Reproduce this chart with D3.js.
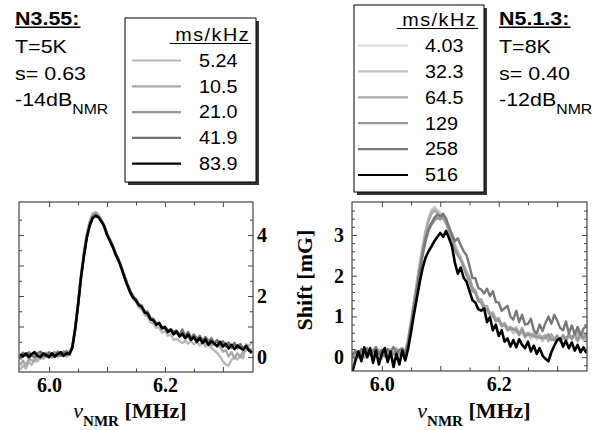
<!DOCTYPE html>
<html><head><meta charset="utf-8">
<script src="https://cdn.jsdelivr.net/npm/d3@7"></script>
<style>body{margin:0;background:#fff}svg{display:block}</style>
</head><body>
<svg id="c" width="605" height="430"></svg>
<script>
// ---------- DATA ----------
const freq = [5.950,5.955,5.960,5.965,5.970,5.975,5.980,5.985,5.990,5.995,
6.000,6.005,6.010,6.015,6.020,6.025,6.030,6.035,6.040,6.045,
6.050,6.055,6.060,6.065,6.070,6.075,6.080,6.085,6.090,6.095,
6.100,6.105,6.110,6.115,6.120,6.125,6.130,6.135,6.140,6.145,
6.150,6.155,6.160,6.165,6.170,6.175,6.180,6.185,6.190,6.195,
6.200,6.205,6.210,6.215,6.220,6.225,6.230,6.235,6.240,6.245,
6.250,6.255,6.260,6.265,6.270,6.275,6.280,6.285,6.290,6.295,
6.300,6.305,6.310,6.315,6.320,6.325,6.330,6.335,6.340,6.345,6.350];

// Left panel (N3.55), shift in mG
const n355_524 = [-0.42,-0.28,-0.38,-0.16,-0.26,-0.04,-0.14,0.04,-0.06,0.08,
-0.02,0.10,0.00,0.10,0.02,0.14,0.02,0.12,0.35,1.00,
1.80,2.70,3.45,4.05,4.45,4.70,4.75,4.68,4.50,4.32,
4.05,3.85,3.62,3.40,3.18,2.92,2.65,2.35,2.10,1.92,
1.80,1.62,1.56,1.38,1.32,1.14,1.10,0.96,0.98,0.80,
0.86,0.70,0.74,0.56,0.60,0.52,0.46,0.54,0.44,0.52,
0.42,0.50,0.38,0.48,0.34,0.44,0.30,0.22,0.14,0.02,
-0.14,-0.24,-0.28,-0.08,-0.02,-0.08,0.02,-0.04,0.42,0.36,0.50];
const n355_105 = [-0.26,-0.12,-0.28,-0.06,-0.10,-0.14,0.04,-0.06,0.08,0.00,
0.10,-0.02,0.10,0.02,0.14,0.04,0.14,0.06,0.32,0.95,
1.75,2.65,3.40,4.00,4.40,4.65,4.72,4.64,4.48,4.30,
4.02,3.82,3.62,3.38,3.18,2.95,2.66,2.40,2.15,1.98,
1.88,1.68,1.66,1.44,1.44,1.26,1.22,1.06,1.08,0.92,
0.96,0.82,0.86,0.76,0.80,0.68,0.72,0.62,0.68,0.54,
0.66,0.50,0.56,0.60,0.42,0.56,0.38,0.44,0.34,0.36,
0.18,0.22,0.02,0.16,-0.04,0.12,0.00,0.18,0.22,0.26,0.24];
const n355_210 = [-0.08,0.06,0.10,-0.04,0.08,0.12,0.00,0.10,0.00,0.14,
0.04,0.12,0.16,0.02,0.12,0.18,0.06,0.16,0.35,0.95,
1.72,2.62,3.35,3.95,4.35,4.60,4.68,4.62,4.50,4.32,
4.05,3.85,3.66,3.40,3.20,2.95,2.68,2.42,2.18,2.00,
1.90,1.72,1.70,1.48,1.50,1.28,1.26,1.10,1.10,0.98,
1.00,0.86,0.92,0.80,0.86,0.72,0.86,0.66,0.78,0.60,
0.72,0.56,0.66,0.50,0.64,0.46,0.58,0.42,0.54,0.38,
0.50,0.34,0.46,0.30,0.44,0.28,0.42,0.26,0.38,0.22,0.20];
const n355_419 = [0.00,0.14,0.04,0.16,0.04,0.00,0.12,0.18,0.06,0.02,
0.16,0.06,0.00,0.18,0.04,0.12,0.20,0.08,0.32,0.92,
1.70,2.58,3.30,3.92,4.32,4.58,4.66,4.60,4.46,4.30,
4.02,3.84,3.62,3.38,3.18,2.92,2.64,2.38,2.15,1.98,
1.88,1.70,1.66,1.48,1.46,1.26,1.24,1.10,1.08,0.96,
0.98,0.86,0.88,0.84,0.86,0.70,0.90,0.68,0.82,0.62,
0.74,0.58,0.70,0.52,0.66,0.48,0.62,0.44,0.56,0.40,
0.52,0.36,0.48,0.32,0.46,0.30,0.42,0.26,0.38,0.22,0.14];
const n355_839 = [0.10,0.02,0.12,0.00,0.10,0.16,0.04,0.00,0.12,0.06,
0.00,0.12,0.02,0.10,0.16,0.04,0.12,0.10,0.30,0.90,
1.70,2.60,3.30,3.90,4.30,4.55,4.63,4.58,4.45,4.28,
4.00,3.80,3.60,3.35,3.15,2.90,2.62,2.35,2.12,1.95,
1.85,1.70,1.64,1.46,1.42,1.24,1.20,1.06,1.12,0.94,
0.98,0.82,0.90,0.74,0.84,0.68,0.76,0.62,0.74,0.56,
0.66,0.50,0.62,0.46,0.58,0.40,0.52,0.44,0.36,0.50,
0.34,0.44,0.28,0.40,0.26,0.38,0.30,0.24,0.36,0.22,0.14];

// Right panel (N5.1.3)
const n513_403 = [-0.10,0.05,0.15,0.08,0.00,0.12,0.20,0.05,0.10,0.00,
0.15,0.08,0.18,0.02,0.12,0.05,0.15,0.10,0.05,0.42,
0.88,1.35,1.82,2.28,2.72,3.10,3.40,3.62,3.70,3.62,
3.55,3.45,3.30,3.15,2.95,2.75,2.58,2.40,2.22,2.05,
1.92,1.66,1.60,1.38,1.36,1.18,1.16,1.02,1.02,0.88,
0.90,0.76,0.79,0.66,0.69,0.58,0.62,0.60,0.59,0.48,
0.60,0.46,0.50,0.48,0.52,0.38,0.50,0.46,0.48,0.44,
0.56,0.41,0.54,0.42,0.58,0.44,0.56,0.54,0.54,0.51,0.52];
const n513_323 = [0.05,0.18,0.10,0.00,0.14,0.20,0.08,0.15,0.05,0.18,
0.10,0.04,0.15,0.20,0.06,0.12,0.18,0.08,0.15,0.45,
0.90,1.38,1.85,2.30,2.75,3.12,3.42,3.60,3.65,3.58,
3.50,3.42,3.35,3.18,2.98,2.78,2.60,2.45,2.28,2.10,
1.96,1.68,1.62,1.42,1.38,1.22,1.22,1.04,1.04,0.90,
0.92,0.78,0.82,0.68,0.72,0.60,0.74,0.56,0.62,0.58,
0.58,0.46,0.60,0.44,0.56,0.42,0.54,0.38,0.52,0.40,
0.44,0.42,0.46,0.44,0.48,0.46,0.50,0.38,0.52,0.41,0.44];
const n513_645 = [0.00,0.12,0.05,0.18,-0.02,0.10,0.15,0.02,0.20,0.08,
0.12,0.20,0.00,0.15,0.08,0.22,0.05,0.15,0.12,0.40,
0.85,1.32,1.80,2.25,2.68,3.05,3.35,3.52,3.60,3.55,
3.48,3.40,3.28,3.12,2.95,2.70,2.55,2.42,2.25,2.08,
1.94,1.72,1.64,1.44,1.42,1.26,1.26,1.08,1.10,0.94,
0.96,0.80,0.84,0.72,0.74,0.70,0.70,0.58,0.72,0.54,
0.60,0.56,0.56,0.52,0.52,0.50,0.54,0.42,0.56,0.44,
0.48,0.46,0.50,0.48,0.52,0.51,0.54,0.62,0.48,0.60,0.46];
const n513_129 = [0.10,-0.05,0.12,0.02,0.15,0.00,0.10,0.18,0.04,0.12,
-0.02,0.10,0.15,0.05,0.12,0.00,0.10,0.05,0.08,0.30,
0.75,1.20,1.65,2.10,2.50,2.85,3.10,3.25,3.35,3.42,
3.38,3.45,3.30,3.10,2.90,2.62,2.50,2.38,2.20,2.00,
1.86,1.62,1.58,1.38,1.34,1.20,1.16,1.04,1.02,0.88,
0.92,0.76,0.80,0.66,0.70,0.68,0.66,0.54,0.68,0.50,
0.56,0.54,0.52,0.50,0.48,0.46,0.48,0.56,0.42,0.44,
0.52,0.38,0.54,0.42,0.56,0.44,0.58,0.42,0.56,0.46,0.58];
const n513_258 = [0.05,0.15,0.00,0.20,0.10,0.22,0.05,0.15,0.25,0.08,
0.18,0.02,0.20,0.12,0.25,0.10,0.18,0.22,0.10,0.35,
0.80,1.25,1.70,2.15,2.55,2.90,3.15,3.30,3.42,3.50,
3.45,3.52,3.40,3.20,3.02,2.85,2.92,2.75,2.60,2.50,
2.24,1.94,1.94,1.70,1.66,1.56,1.68,1.50,1.62,1.36,
1.34,1.14,1.20,1.26,1.00,0.92,1.14,0.86,1.04,0.80,
0.82,0.94,0.66,0.58,0.80,0.64,0.84,1.00,0.82,1.04,
0.90,0.72,0.66,0.88,0.58,0.78,0.56,0.74,0.54,0.70,0.76];
const n513_516 = [-0.34,-0.08,0.14,-0.10,0.24,0.00,0.22,-0.14,0.16,-0.18,
0.08,0.22,-0.12,0.14,-0.24,0.08,-0.18,0.16,-0.08,0.20,
0.62,1.05,1.45,1.85,2.20,2.45,2.60,2.72,2.85,2.95,
3.05,2.96,3.10,2.92,2.72,2.32,2.05,2.20,1.95,1.85,
1.62,1.40,1.34,1.18,1.14,1.20,0.86,0.98,0.66,0.80,
0.52,0.66,0.38,0.46,0.26,0.42,0.24,0.44,0.30,0.22,
0.38,0.14,0.28,0.08,0.22,0.04,-0.04,-0.10,0.12,0.28,
0.42,0.46,0.26,0.40,0.22,0.36,0.16,0.30,0.12,0.24,0.10];

const leftLabels  = ["5.24","10.5","21.0","41.9","83.9"];
const leftColors  = ["#b8b8b8","#a8a8a8","#959595","#727272","#000000"];
const leftSeries  = [n355_524, n355_105, n355_210, n355_419, n355_839];
const rightLabels = ["4.03","32.3","64.5","129","258","516"];
const rightColors = ["#d6d6d6","#c2c2c2","#a9a9a9","#979797","#787878","#000000"];
const rightSeries = [n513_403, n513_323, n513_645, n513_129, n513_258, n513_516];

const infoLeft  = ["N3.55:", "T=5K", "s= 0.63", "-14dB", "NMR"];
const infoRight = ["N5.1.3:", "T=8K", "s= 0.40", "-12dB", "NMR"];
const legendTitle = "ms/kHz";

const xTicksMajor = [6.0, 6.1, 6.2, 6.3];
const xTicksMinor = [6.05, 6.15, 6.25];
const xTickLabels = [6.0, 6.2];
const leftYMajor = [0, 1, 2, 3, 4];
const leftYMinor = [0.5, 1.5, 2.5, 3.5, 4.5];
const leftYLabels = [0, 2, 4];
const rightYMajor = [0, 1, 2, 3];
const rightYMinor = [-0.2, 0.2, 0.4, 0.6, 0.8, 1.2, 1.4, 1.6, 1.8, 2.2, 2.4, 2.6, 2.8, 3.2, 3.4, 3.6];
const rightYLabels = [0, 1, 2, 3];

// ---------- DRAW ----------
const svg = d3.select('#c');
const SX = 1.13;
const SANS = "'Liberation Sans', Arial, Helvetica, sans-serif";
const SERIF = "'Liberation Serif', 'Times New Roman', Times, serif";

function sansText(parent, x, y, str, o = {}) {
  const g = parent.append('g').attr('transform', `translate(${x},${y}) scale(${SX},1)`);
  const t = g.append('text')
    .attr('font-family', SANS).attr('font-size', o.size || 19)
    .attr('font-weight', o.bold ? 'bold' : 'normal')
    .attr('text-anchor', o.anchor || 'start')
    .attr('letter-spacing', o.ls || 0)
    .attr('fill', '#000').text(str);
  if (o.sub) {
    t.append('tspan').attr('font-size', o.subSize || 14).attr('dy', 8).text(o.sub);
  }
  if (o.underline) {
    const b = t.node().getBBox();
    g.append('line').attr('x1', b.x - (o.ulPad || 0)).attr('x2', b.x + b.width + 1)
      .attr('y1', o.ulY || 2.5).attr('y2', o.ulY || 2.5)
      .attr('stroke', '#000').attr('stroke-width', o.ulW || 1.4);
  }
  return g;
}

function info(x, lines) {
  sansText(svg, x, 25, lines[0], {bold: true, size: 19, underline: true, ulY: 2.2, ulW: 1.6});
  sansText(svg, x, 53, lines[1], {size: 19});
  sansText(svg, x, 80, lines[2], {size: 19});
  sansText(svg, x, 106, lines[3], {size: 19, sub: lines[4], subSize: 14});
}
info(15, infoLeft);
info(499, infoRight);

function legend(bx, by, bw, bh, titleX, titleY, labels, colors, lineX0, lineX1, textX, rowY0, rowStep) {
  const g = svg.append('g');
  g.append('rect').attr('x', bx + 3).attr('y', by + 3).attr('width', bw).attr('height', bh).attr('fill', '#333');
  g.append('rect').attr('x', bx).attr('y', by).attr('width', bw).attr('height', bh)
    .attr('fill', '#fff').attr('stroke', '#000').attr('stroke-width', 1);
  sansText(g, titleX, titleY, legendTitle, {size: 17.5, anchor: 'end', ls: 1.3, underline: true, ulPad: 5, ulY: 2.5, ulW: 1.2});
  labels.forEach((lab, i) => {
    const yy = rowY0 + i * rowStep;
    g.append('line').attr('x1', lineX0).attr('x2', lineX1).attr('y1', yy).attr('y2', yy)
      .attr('stroke', colors[i]).attr('stroke-width', 2.2);
    sansText(g, textX, yy + 6.3, lab, {size: 17.5});
  });
}
legend(125, 18, 131, 164, 250, 41, leftLabels, leftColors, 132, 181, 199, 60.5, 25.8);
legend(354, 5, 130, 187, 477, 26, rightLabels, rightColors, 358, 408, 425, 45.5, 25.9);

function panel(cfg) {
  const x = d3.scaleLinear().domain(cfg.xd).range([cfg.x0, cfg.x1]);
  const y = d3.scaleLinear().domain(cfg.yd).range([cfg.y1, cfg.y0]);
  const g = svg.append('g');
  const cid = 'clip' + cfg.id;
  g.append('clipPath').attr('id', cid).append('rect')
    .attr('x', cfg.x0).attr('y', cfg.y0).attr('width', cfg.x1 - cfg.x0).attr('height', cfg.y1 - cfg.y0);
  const line = d3.line().x((d, i) => x(freq[i])).y(d => y(d));
  const lg = g.append('g').attr('clip-path', `url(#${cid})`);
  cfg.series.forEach((s, i) => {
    lg.append('path').attr('d', line(s)).attr('fill', 'none')
      .attr('stroke', cfg.colors[i]).attr('stroke-width', cfg.colors[i] === '#000000' ? 2.6 : 2.4)
      .attr('stroke-linejoin', 'round');
  });
  g.append('rect').attr('x', cfg.x0).attr('y', cfg.y0).attr('width', cfg.x1 - cfg.x0).attr('height', cfg.y1 - cfg.y0)
    .attr('fill', 'none').attr('stroke', '#444').attr('stroke-width', 1.2);

  const style = sel => {
    sel.select('.domain').remove();
    sel.selectAll('line').attr('stroke', '#444').attr('stroke-width', 1);
    sel.selectAll('text').attr('font-family', SERIF).attr('font-weight', 'bold').attr('font-size', 20).attr('fill', '#000');
  };
  const xl = d => xTickLabels.some(v => Math.abs(v - d) < 1e-9) ? d3.format('.1f')(d) : '';
  g.append('g').attr('transform', `translate(0,${cfg.y1})`)
    .call(d3.axisBottom(x).tickValues(xTicksMajor).tickSize(-5).tickSizeOuter(0).tickPadding(6).tickFormat(xl)).call(style);
  g.append('g').attr('transform', `translate(0,${cfg.y1})`)
    .call(d3.axisBottom(x).tickValues(xTicksMinor).tickSize(-3.5).tickSizeOuter(0).tickFormat('')).call(style);
  g.append('g').attr('transform', `translate(0,${cfg.y0})`)
    .call(d3.axisTop(x).tickValues(xTicksMajor).tickSize(-5).tickSizeOuter(0).tickFormat('')).call(style);
  g.append('g').attr('transform', `translate(0,${cfg.y0})`)
    .call(d3.axisTop(x).tickValues(xTicksMinor).tickSize(-3.5).tickSizeOuter(0).tickFormat('')).call(style);
  const yl = d => cfg.yLabels.includes(d) ? String(d) : '';
  const labelLeft = cfg.labelSide === 'left';
  g.append('g').attr('transform', `translate(${cfg.x0},0)`)
    .call(d3.axisLeft(y).tickValues(cfg.yMajor).tickSize(-5).tickSizeOuter(0).tickPadding(8)
      .tickFormat(labelLeft ? yl : '')).call(style);
  g.append('g').attr('transform', `translate(${cfg.x0},0)`)
    .call(d3.axisLeft(y).tickValues(cfg.yMinor).tickSize(-3).tickSizeOuter(0).tickFormat('')).call(style);
  g.append('g').attr('transform', `translate(${cfg.x1},0)`)
    .call(d3.axisRight(y).tickValues(cfg.yMajor).tickSize(-5).tickSizeOuter(0).tickPadding(4)
      .tickFormat(labelLeft ? '' : yl)).call(style);
  g.append('g').attr('transform', `translate(${cfg.x1},0)`)
    .call(d3.axisRight(y).tickValues(cfg.yMinor).tickSize(-3).tickSizeOuter(0).tickFormat('')).call(style);

  const t = g.append('text').attr('x', cfg.titleX).attr('y', 418).attr('text-anchor', 'middle')
    .attr('font-family', SERIF).attr('font-size', 22).attr('font-weight', 'bold');
  t.append('tspan').attr('font-style', 'italic').attr('font-weight', 'normal').text('ν');
  t.append('tspan').attr('font-size', 15).attr('dy', 8).text('NMR');
  t.append('tspan').attr('dy', -8).text(' [MHz]');
}

panel({id: 'L', x0: 19, x1: 253, y0: 202, y1: 372, xd: [5.948, 6.352], yd: [-0.49, 5.08],
  series: leftSeries, colors: leftColors, yMajor: leftYMajor, yMinor: leftYMinor, yLabels: leftYLabels,
  labelSide: 'right', titleX: 130});
panel({id: 'R', x0: 352, x1: 587, y0: 202, y1: 371, xd: [5.949, 6.351], yd: [-0.34, 3.81],
  series: rightSeries, colors: rightColors, yMajor: rightYMajor, yMinor: rightYMinor, yLabels: rightYLabels,
  labelSide: 'left', titleX: 474});

svg.append('text').attr('transform', 'translate(312,280) rotate(-90)').attr('text-anchor', 'middle')
  .attr('font-family', SERIF).attr('font-size', 22).attr('font-weight', 'bold').text('Shift [mG]');
</script>
</body></html>
